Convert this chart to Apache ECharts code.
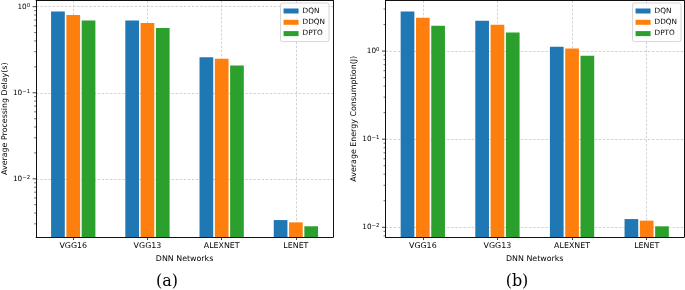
<!DOCTYPE html>
<html>
<head>
<meta charset="utf-8">
<script src="https://cdn.jsdelivr.net/npm/echarts@6/dist/echarts.min.js"></script>
<style>
  html, body { margin: 0; padding: 0; background: #fff; }
  #chart { width: 685px; height: 290px; }
</style>
</head>
<body>
<div id="chart"></div>
<script>
// categories and series
const networks = ['VGG16', 'VGG13', 'ALEXNET', 'LENET'];
const methods = ['DQN', 'DDQN', 'DPTO'];
const colors = ['#1f77b4', '#ff7f0e', '#2ca02c'];

const delayDQN = [0.88, 0.69, 0.258, 0.00332];
const delayDDQN = [0.80, 0.645, 0.249, 0.00312];
const delayDPTO = [0.69, 0.565, 0.208, 0.00281];

const energyDQN = [2.82, 2.21, 1.12, 0.0124];
const energyDDQN = [2.39, 1.99, 1.07, 0.0119];
const energyDPTO = [1.94, 1.63, 0.887, 0.01026];

// y ranges (log axes)
const delayRange = [0.00211, 1.18];
const energyRange = [0.00776, 3.75];

// tick values for the log axes
const majorTicksA = [0.01, 0.1, 1];
const minorTicksA = [0.003, 0.004, 0.005, 0.006, 0.007, 0.008, 0.009,
  0.02, 0.03, 0.04, 0.05, 0.06, 0.07, 0.08, 0.09,
  0.2, 0.3, 0.4, 0.5, 0.6, 0.7, 0.8, 0.9];
const majorTicksB = [0.01, 0.1, 1];
const minorTicksB = [0.008, 0.009,
  0.02, 0.03, 0.04, 0.05, 0.06, 0.07, 0.08, 0.09,
  0.2, 0.3, 0.4, 0.5, 0.6, 0.7, 0.8, 0.9, 2, 3];

const FONT = 'DejaVu Sans';
const FS = 7.3;    // tick labels / legend
const FS_L = 7.9;  // category labels, axis names
const BAR_W = 13.7;
const BAR_GAP = 1.6;
const GRID_LINE = { color: '#c8c8c8', width: 0.8, type: [2.5, 1.6] };
const SPINE = { color: '#111', width: 1 };

const chart = echarts.init(document.getElementById('chart'), null, { renderer: 'canvas' });

const sup = e => (e < 0 ? '\u2212' + (-e) : String(e));
const logLabel = v => {
  const l = Math.log10(v);
  const e = Math.round(l);
  if (Math.abs(l - e) > 1e-6) return '';
  return '{b|10}{s|' + sup(e) + '}';
};

function axesFor(gi, range, yName, nameGap) {
  const xs = [
    {
      gridIndex: gi, type: 'category', data: networks, position: 'bottom', z: 10,
      axisLine: { show: true, onZero: false, lineStyle: SPINE },
      axisTick: { show: true, alignWithLabel: true, length: 3, lineStyle: { color: '#111', width: 0.8 } },
      axisLabel: { color: '#000', fontFamily: FONT, fontSize: FS_L, margin: 5 },
      splitLine: { show: false },
      name: 'DNN Networks', nameLocation: 'middle', nameGap: 16,
      nameTextStyle: { color: '#000', fontFamily: FONT, fontSize: FS_L }
    },
    {
      gridIndex: gi, type: 'value', position: 'top', min: -0.5, max: 3.5, z: 0,
      axisLine: { show: true, onZero: false, lineStyle: SPINE },
      axisTick: { show: false }, axisLabel: { show: false },
      splitLine: { show: true, lineStyle: GRID_LINE, showMinLine: false, showMaxLine: false }
    }
  ];
  const ys = [
    {
      gridIndex: gi, type: 'log', position: 'left', min: range[0], max: range[1], z: 10,
      axisLine: { show: true, onZero: false, lineStyle: SPINE },
      axisTick: { show: false },
      axisLabel: {
        margin: 6, formatter: logLabel, color: '#000',
        rich: {
          b: { fontFamily: FONT, fontSize: FS, color: '#000' },
          s: { fontFamily: FONT, fontSize: 5.4, color: '#000', verticalAlign: 'top', padding: [0, 0, 3, 0] }
        }
      },
      splitLine: { show: false },
      name: yName, nameLocation: 'middle', nameGap: nameGap, nameRotate: 90,
      nameTextStyle: { color: '#000', fontFamily: FONT, fontSize: FS_L }
    },
    {
      gridIndex: gi, type: 'log', position: 'right', min: range[0], max: range[1], z: 1,
      axisLine: { show: true, onZero: false, lineStyle: SPINE },
      axisTick: { show: false }, axisLabel: { show: false },
      splitLine: { show: true, lineStyle: GRID_LINE, showMinLine: false, showMaxLine: false }
    }
  ];
  return { xs, ys };
}

const A = axesFor(0, delayRange, 'Average Processing Delay(s)', 23);
const B = axesFor(1, energyRange, 'Average Energy Consumption(J)', 24);

// grouped bars drawn from the bottom of the log axis
function bars(gi, arrays, range) {
  return arrays.map((vals, i) => ({
    type: 'custom', name: methods[i], xAxisIndex: gi * 2, yAxisIndex: gi * 2,
    data: vals.map((v, j) => [j, v]),
    encode: { x: 0, y: 1 },
    itemStyle: { color: colors[i] }, z: 2,
    renderItem: (params, api) => {
      const top = api.coord([api.value(0), api.value(1)]);
      const base = api.coord([api.value(0), range[0]]);
      const cx = top[0] + (i - 1) * (BAR_W + BAR_GAP);
      return {
        type: 'rect',
        shape: { x: cx - BAR_W / 2, y: top[1], width: BAR_W, height: base[1] - top[1] },
        style: { fill: colors[i] }
      };
    }
  }));
}

function ticks(gi, major, minor) {
  const data = major.map(v => [0, v, 1]).concat(minor.map(v => [0, v, 0]));
  return {
    type: 'custom', xAxisIndex: gi * 2, yAxisIndex: gi * 2, z: 12, silent: true, clip: false,
    data,
    encode: { x: 0, y: 1 },
    renderItem: (params, api) => {
      const cs = params.coordSys;
      const y = api.coord([0, api.value(1)])[1];
      const len = api.value(2) ? 3.5 : 2;
      return {
        type: 'line',
        shape: { x1: cs.x - len, y1: y, x2: cs.x, y2: y },
        style: { stroke: '#111', lineWidth: api.value(2) ? 0.8 : 0.6 }
      };
    }
  };
}

const legendBase = {
  orient: 'vertical', data: methods, icon: 'rect',
  itemWidth: 15, itemHeight: 5, itemGap: 2.3,
  padding: [3.5, 4, 3.5, 3],
  backgroundColor: 'rgba(255,255,255,0.8)',
  borderColor: '#cccccc', borderWidth: 0.8, borderRadius: 2,
  textStyle: { color: '#000', fontFamily: FONT, fontSize: FS, lineHeight: 9, padding: [0, 0, 0, -1] },
  selectedMode: false
};

chart.setOption({
  animation: false,
  backgroundColor: '#fff',
  grid: [
    { left: 33.5, top: 0.5, width: 299.5, height: 236.5 },
    { left: 385.5, top: 0.5, width: 298.5, height: 236.5 }
  ],
  legend: [
    Object.assign({}, legendBase, { right: 356, top: 3 }),
    Object.assign({}, legendBase, { right: 4, top: 3 })
  ],
  xAxis: A.xs.concat(B.xs),
  yAxis: A.ys.concat(B.ys),
  graphic: [
    { type: 'text', x: 167, y: 282, style: { text: '(a)', font: '16px "DejaVu Serif"', fill: '#000', textAlign: 'center', textVerticalAlign: 'middle' } },
    { type: 'text', x: 517, y: 282, style: { text: '(b)', font: '16px "DejaVu Serif"', fill: '#000', textAlign: 'center', textVerticalAlign: 'middle' } }
  ],
  series: bars(0, [delayDQN, delayDDQN, delayDPTO], delayRange)
    .concat(bars(1, [energyDQN, energyDDQN, energyDPTO], energyRange))
    .concat([ticks(0, majorTicksA, minorTicksA), ticks(1, majorTicksB, minorTicksB)])
});
</script>
</body>
</html>
